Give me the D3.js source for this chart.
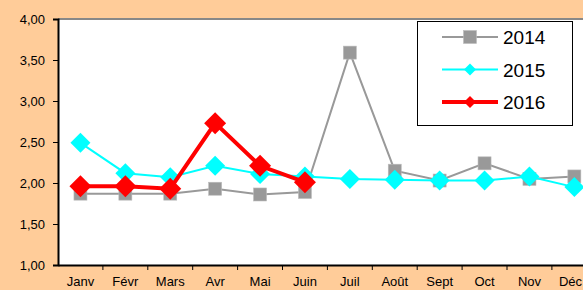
<!DOCTYPE html>
<html>
<head>
<meta charset="utf-8">
<style>
  body { margin: 0; background: #ffcc99; }
  svg { display: block; font-family: "Liberation Sans", Arial, sans-serif; }
</style>
</head>
<body>
<svg width="583" height="290"></svg>
<script src="https://d3js.org/d3.v7.min.js"></script>
<script>
const months = ["Janv", "Févr", "Mars", "Avr", "Mai", "Juin", "Juil", "Août", "Sept", "Oct", "Nov", "Déc"];
const values2014 = [1.87, 1.87, 1.87, 1.93, 1.86, 1.89, 3.59, 2.15, 2.03, 2.24, 2.05, 2.08];
const values2015 = [2.49, 2.12, 2.07, 2.21, 2.11, 2.08, 2.05, 2.04, 2.03, 2.03, 2.08, 1.95];
const values2016 = [1.96, 1.96, 1.93, 2.73, 2.21, 2.01];
const yTicks = [1, 1.5, 2, 2.5, 3, 3.5, 4];

const svg = d3.select("svg");
const plotLeft = 58, plotTop = 19, plotBottom = 265;

const x = d3.scaleBand().domain(months).range([plotLeft, plotLeft + 12 * 44.9]);
const y = d3.scaleLinear().domain([1, 4]).range([plotBottom, plotTop]);

// plot area
svg.append("rect")
  .attr("x", plotLeft).attr("y", plotTop)
  .attr("width", 583 - plotLeft).attr("height", plotBottom - plotTop)
  .attr("fill", "#fff");
svg.append("line")
  .attr("x1", plotLeft).attr("x2", 583).attr("y1", plotTop).attr("y2", plotTop)
  .attr("stroke", "#888").attr("stroke-width", 2);

// axes
const fmt = d => d.toFixed(2).replace(".", ",");
const yAxis = svg.append("g")
  .attr("transform", `translate(${plotLeft},0)`)
  .call(d3.axisLeft(y).tickValues(yTicks).tickFormat(fmt).tickSize(5).tickPadding(8));
yAxis.selectAll("text").attr("font-size", 13).attr("fill", "#000");
yAxis.select(".domain").attr("stroke-width", 2);

const xAxis = svg.append("g")
  .attr("transform", `translate(0,${plotBottom})`)
  .call(d3.axisBottom(x).tickSize(0).tickPadding(12));
xAxis.selectAll("text").attr("font-size", 13).attr("fill", "#000");
xAxis.select(".domain").attr("stroke-width", 2);
// last label would run off the right edge, keep it inside
xAxis.selectAll(".tick").filter(d => d === "Déc").select("text")
  .attr("text-anchor", "end").attr("x", 583 - (x("Déc") + x.bandwidth() / 2) - 1);
xAxis.selectAll(".bd")
  .data(months.slice(1))
  .join("line")
  .attr("x1", d => x(d)).attr("x2", d => x(d))
  .attr("y1", 0).attr("y2", 5)
  .attr("stroke", "#000");

const cx = d => x(d) + x.bandwidth() / 2;

const series = [
  { name: "2014", values: values2014, color: "#999999", width: 2, shape: "square", size: 13 },
  { name: "2015", values: values2015, color: "#00ffff", width: 2, shape: "diamond", size: 20 },
  { name: "2016", values: values2016, color: "#ff0000", width: 4, shape: "diamond", size: 22 }
];

function marker(g, s, px, py) {
  if (s.shape === "square") {
    g.append("rect")
      .attr("x", px - s.size / 2).attr("y", py - s.size / 2)
      .attr("width", s.size).attr("height", s.size)
      .attr("fill", s.color).attr("stroke", "#bbb").attr("stroke-width", 0.6);
  } else {
    const h = s.size / 2;
    g.append("path")
      .attr("d", `M${px},${py - h}L${px + h},${py}L${px},${py + h}L${px - h},${py}Z`)
      .attr("fill", s.color);
  }
}

const line = d3.line().x((d, i) => cx(months[i])).y(d => y(d));

series.forEach(s => {
  const g = svg.append("g");
  g.append("path")
    .attr("d", line(s.values))
    .attr("fill", "none")
    .attr("stroke", s.color)
    .attr("stroke-width", s.width);
  s.values.forEach((v, i) => marker(g, s, cx(months[i]), y(v)));
});

// legend
const lg = svg.append("g");
lg.append("rect")
  .attr("x", 417.5).attr("y", 21.5).attr("width", 155).attr("height", 104)
  .attr("fill", "#fff").attr("stroke", "#000");
series.forEach((s, i) => {
  const ly = 37 + i * 32.5;
  lg.append("line")
    .attr("x1", 442).attr("x2", 498).attr("y1", ly).attr("y2", ly)
    .attr("stroke", s.color).attr("stroke-width", s.width);
  marker(lg, Object.assign({}, s, { size: s.shape === "square" ? 13 : 12 }), 470, ly);
  lg.append("text")
    .attr("x", 503).attr("y", ly + 7)
    .attr("font-size", 19)
    .text(s.name);
});
</script>
</body>
</html>
